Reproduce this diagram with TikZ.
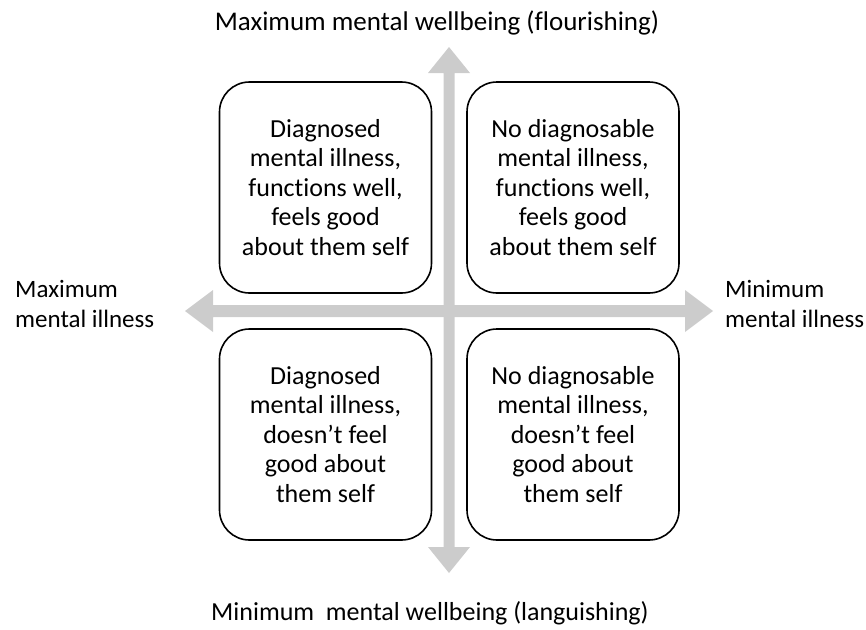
\documentclass[tikz,border=0pt]{standalone}
\usepackage{fontspec}
\setmainfont{Carlito}[Ligatures=NoCommon]
\begin{document}
\begin{tikzpicture}[x=1pt,y=-1pt,
  quad/.style={draw=black, line width=1.6pt, rounded corners=30pt, minimum width=212pt, minimum height=211pt, align=center, font=\fontsize{26}{29.5}\selectfont, inner sep=0pt},
  axis/.style={fill=black!20, draw=none},
  lbl/.style={font=\fontsize{25}{29.5}\selectfont, inner sep=0pt},
  ttl/.style={font=\fontsize{27}{30}\selectfont, inner sep=0pt}]
\useasboundingbox (0,0) rectangle (866,629);
% axes
\coordinate (vt) at (449,47);
\coordinate (vb) at (449,573);
\coordinate (hl) at (185,311);
\coordinate (hr) at (713,311);
\fill[axis] (vt) -- ++(21,26) -- ++(-15.5,0) -- ++(0,474) -- ++(15.5,0) -- (vb) -- ++(-21,-26) -- ++(15.5,0) -- ++(0,-474) -- ++(-15.5,0) -- cycle;
\fill[axis] (hl) -- ++(28,-21) -- ++(0,15) -- ++(472,0) -- ++(0,-15) -- (hr) -- ++(-28,21) -- ++(0,-15) -- ++(-472,0) -- ++(0,15) -- cycle;
% quadrants
\node[quad] (tl) at (325.5,187.5) {Diagnosed\\mental illness,\\functions well,\\feels good\\about them self};
\node[quad] (tr) at (573,187.5) {No diagnosable\\mental illness,\\functions well,\\feels good\\about them self};
\node[quad] (bl) at (325.5,434.5) {Diagnosed\\mental illness,\\doesn’t feel\\good about\\them self};
\node[quad] (br) at (573,434.5) {No diagnosable\\mental illness,\\doesn’t feel\\good about\\them self};
% labels
\node[ttl, anchor=base] (top) at (437,30) {Maximum mental wellbeing (flourishing)};
\node[ttl, font=\fontsize{26}{30}\selectfont, anchor=base] (bot) at (430,620) {Minimum\hspace{0.45em}mental wellbeing (languishing)};
\node[lbl, anchor=west, align=left] (left) at (15,304) {Maximum\\mental illness};
\node[lbl, anchor=west, align=left] (right) at (725,304) {Minimum\\mental illness};
\end{tikzpicture}
\end{document}
